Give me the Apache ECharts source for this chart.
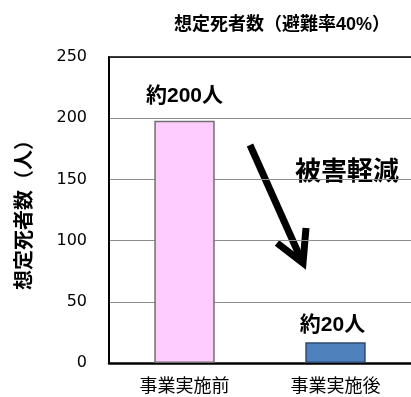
<!DOCTYPE html>
<html>
<head>
<meta charset="utf-8">
<script src="https://cdn.jsdelivr.net/npm/echarts@6/dist/echarts.min.js"></script>
<style>
  html, body { margin: 0; padding: 0; background: #fff; }
  #chart { width: 411px; height: 397px; }
</style>
</head>
<body>
<div id="chart"></div>
<script>
// Estimated deaths before / after the project (evacuation rate 40%)
const categories = ['事業実施前', '事業実施後'];
const deaths = [198, 17];
const valueLabels = ['約200人', '約20人'];
const yTicks = [0, 50, 100, 150, 200, 250];

const JP = '"Liberation Sans", "Noto Sans CJK JP", sans-serif';

const barColors = ['#FFCCFF', '#4F81BD'];
const barBorders = ['#707070', '#2E4A6E'];
const labelDistance = [14, 6];
const labelOffset = [[0, 0], [-3, 0]];

const seriesData = deaths.map((v, i) => ({
  value: v,
  itemStyle: { color: barColors[i], borderColor: barBorders[i], borderWidth: 1.5 },
  label: { formatter: valueLabels[i], distance: labelDistance[i], offset: labelOffset[i] }
}));

const chart = echarts.init(document.getElementById('chart'));
chart.setOption({
  animation: false,
  backgroundColor: '#fff',
  title: {
    text: '想定死者数（避難率40%）',
    left: 277,
    top: 11,
    textAlign: 'center',
    textStyle: { fontFamily: JP, fontSize: 18, fontWeight: 'bold', color: '#000' }
  },
  grid: { left: 109, right: -4, top: 57, bottom: 34 },
  xAxis: [{
    type: 'category',
    data: categories,
    axisLine: { lineStyle: { color: '#000', width: 2.5 } },
    axisTick: { inside: true, length: 5, lineStyle: { color: '#000' } },
    axisLabel: { fontFamily: '"Noto Sans CJK JP", sans-serif', fontSize: 18, color: '#000', margin: 13 }
  }, {
    type: 'category',
    position: 'top',
    data: categories,
    axisLine: { lineStyle: { color: '#000', width: 1.5 } },
    axisTick: { show: false },
    axisLabel: { show: false }
  }],
  yAxis: {
    type: 'value',
    min: yTicks[0],
    max: yTicks[yTicks.length - 1],
    interval: yTicks[1] - yTicks[0],
    name: '想定死者数（人）',
    nameLocation: 'middle',
    nameRotate: 90,
    nameGap: 74,
    nameTextStyle: { fontFamily: JP, fontSize: 20, fontWeight: 'bold', color: '#000' },
    axisLine: { show: true, lineStyle: { color: '#000', width: 2 } },
    axisTick: { show: false },
    axisLabel: { fontFamily: '"DejaVu Sans", sans-serif', fontSize: 16, color: '#000', margin: 22 },
    splitLine: { lineStyle: { color: '#8c8c8c', width: 1 } }
  },
  series: [{
    type: 'bar',
    data: seriesData,
    barWidth: '40%',
    label: {
      show: true,
      position: 'top',
      fontFamily: JP,
      fontSize: 21,
      fontWeight: 'bold',
      color: '#000'
    }
  }],
  graphic: [
    {
      type: 'line',
      shape: { x1: 250, y1: 145, x2: 301, y2: 259 },
      style: { stroke: '#000', lineWidth: 7 }
    },
    {
      type: 'polyline',
      shape: { points: [[277, 243], [303, 263], [306, 228]] },
      style: { stroke: '#000', lineWidth: 7, fill: null, lineJoin: 'miter' }
    },
    {
      type: 'text',
      x: 347,
      y: 170,
      style: {
        text: '被害軽減',
        fontFamily: '"Noto Sans CJK JP", sans-serif',
        fontSize: 26,
        fontWeight: 'bold',
        fill: '#000',
        align: 'center',
        verticalAlign: 'middle'
      }
    }
  ]
});
</script>
</body>
</html>
